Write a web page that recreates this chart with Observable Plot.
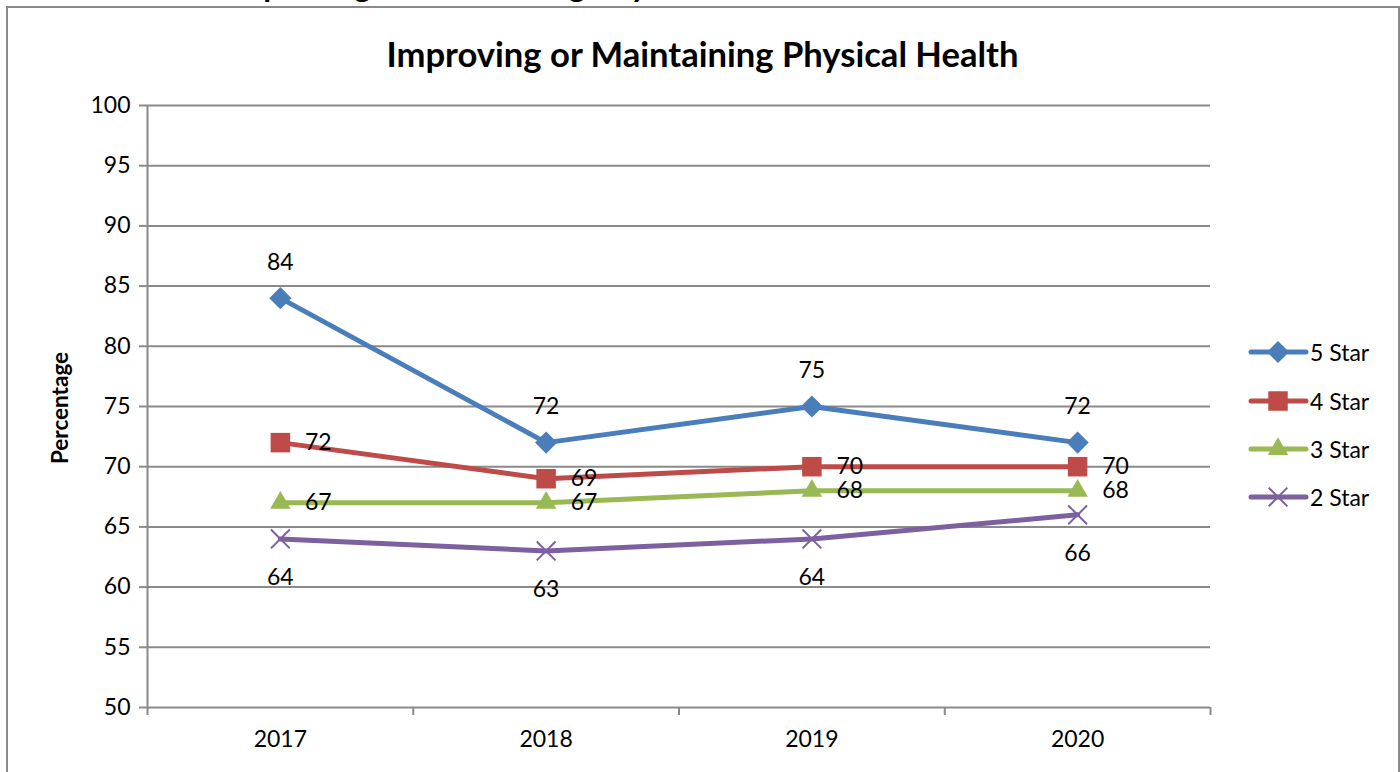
<!DOCTYPE html>
<html>
<head>
<meta charset="utf-8">
<script src="https://cdn.jsdelivr.net/npm/d3@7"></script>
<script src="https://cdn.jsdelivr.net/npm/@observablehq/plot@0.6"></script>
<style>
  html, body { margin: 0; padding: 0; background: #fff; overflow: hidden; }
  #wrap { position: relative; width: 1400px; height: 772px; font-family: Lato, "Open Sans", sans-serif; }
  #border { position: absolute; left: 6px; top: 6px; width: 1390px; height: 820px; border: 2px solid #8a8a8a; pointer-events: none; }
  #cut { position: absolute; left: 40px; top: -30px; font-size: 32px; line-height: 30px; font-weight: bold; white-space: nowrap; color: #000; }
  #title { position: absolute; left: 0; width: 1405px; top: 35px; text-align: center; font-size: 34.6px; line-height: 38px; font-weight: bold; color: #000; }
  #ylab { position: absolute; left: 59px; top: 408px; transform: translate(-50%, -50%) rotate(-90deg); font-size: 22.5px; font-weight: bold; white-space: nowrap; }
  #legend { position: absolute; left: 1248px; top: 0; }
  .li { position: absolute; left: 0; height: 30px; width: 150px; }
  .li svg { position: absolute; left: 0; top: 0; }
  .li span { position: absolute; left: 62px; top: 0; line-height: 30px; font-size: 23px; white-space: nowrap; }
  #chart { position: absolute; left: 0; top: 0; }
</style>
</head>
<body>
<div id="wrap">
  <div id="chart"></div>
  <div id="cut">Measure 5C: Improving or Maintaining Physical Health</div>
  <div id="title">Improving or Maintaining Physical Health</div>
  <div id="ylab">Percentage</div>
  <div id="legend"></div>
  <div id="border"></div>
</div>
<script>
const years = [2017, 2018, 2019, 2020];
const seriesNames = ["5 Star", "4 Star", "3 Star", "2 Star"];
const star5 = [84, 72, 75, 72];
const star4 = [72, 69, 70, 70];
const star3 = [67, 67, 68, 68];
const star2 = [64, 63, 64, 66];
const colors = ["#4A7EBB", "#BE4B48", "#98B954", "#7D60A0"];
const yTicks = [50, 55, 60, 65, 70, 75, 80, 85, 90, 95, 100];

const values = [star5, star4, star3, star2];
const data = [];
seriesNames.forEach((s, i) => years.forEach((y, j) => data.push({series: s, year: y, value: values[i][j]})));
const bySeries = s => data.filter(d => d.series === s);
const boundaries = [...years.map(y => y - 0.5), years[years.length - 1] + 0.5];

const symbols = {"5 Star": "diamond2", "4 Star": "square", "3 Star": "triangle", "2 Star": "times"};
const radius = {"5 Star": 10, "4 Star": 11, "3 Star": 7.6, "2 Star": 8.6};

const marks = [
  Plot.ruleY(yTicks.slice(1), {stroke: "#8a8a8a", strokeWidth: 2}),
  Plot.axisY({ticks: yTicks, tickSize: 8, tickPadding: 9, fontSize: 23, stroke: "#8a8a8a", strokeWidth: 2, color: "#000", label: null}),
  Plot.axisX({ticks: boundaries, tickSize: 8, tickFormat: () => "", stroke: "#8a8a8a", strokeWidth: 2, label: null}),
  Plot.axisX({ticks: years, tickSize: 0, tickPadding: 23, tickFormat: d => String(d), fontSize: 23, color: "#000", label: null}),
  Plot.ruleY([50], {stroke: "#8a8a8a", strokeWidth: 2}),
  Plot.ruleX([boundaries[0]], {y1: 50, y2: 100, stroke: "#8a8a8a", strokeWidth: 2}),
  Plot.line(data, {x: "year", y: "value", z: "series", stroke: "series", strokeWidth: 5})
];
seriesNames.forEach(s => {
  const isStroke = s === "2 Star";
  marks.push(Plot.dot(bySeries(s), {
    x: "year", y: "value", symbol: () => symbols[s], r: radius[s],
    fill: isStroke ? "none" : "series", stroke: isStroke ? "series" : "none", strokeWidth: isStroke ? 2 : 0
  }));
});
const labelPos = {"5 Star": {dx: 0, dy: -36}, "4 Star": {dx: 38, dy: 0}, "3 Star": {dx: 38, dy: 0}, "2 Star": {dx: 0, dy: 39}};
seriesNames.forEach(s => {
  marks.push(Plot.text(bySeries(s), {x: "year", y: "value", text: d => String(d.value), dx: labelPos[s].dx, dy: labelPos[s].dy, fontSize: 23, fill: "#000"}));
});

const chart = Plot.plot({
  width: 1400, height: 772,
  marginLeft: 147, marginRight: 190, marginTop: 105, marginBottom: 65,
  style: {background: "transparent", fontFamily: "Lato, 'Open Sans', sans-serif"},
  x: {domain: [boundaries[0], boundaries[boundaries.length - 1]], axis: null},
  y: {domain: [50, 100], axis: null},
  color: {domain: seriesNames, range: colors},
  symbol: {type: "identity"},
  marks
});
document.getElementById("chart").appendChild(chart);

// Legend
const legend = document.getElementById("legend");
const legendY = [352, 401, 449, 497];
seriesNames.forEach((s, i) => {
  const item = document.createElement("div");
  item.className = "li";
  item.style.top = (legendY[i] - 15) + "px";
  const svg = d3.create("svg").attr("width", 62).attr("height", 30);
  svg.append("line").attr("x1", 3).attr("x2", 58).attr("y1", 15).attr("y2", 15)
    .attr("stroke", colors[i]).attr("stroke-width", 5).attr("stroke-linecap", "round");
  const symMap = {"5 Star": d3.symbolDiamond2, "4 Star": d3.symbolSquare, "3 Star": d3.symbolTriangle, "2 Star": d3.symbolTimes};
  const size = Math.PI * radius[s] * radius[s];
  const p = svg.append("path").attr("d", d3.symbol(symMap[s], size)()).attr("transform", "translate(30,15)");
  if (s === "2 Star") p.attr("fill", "none").attr("stroke", colors[i]).attr("stroke-width", 2);
  else p.attr("fill", colors[i]);
  item.appendChild(svg.node());
  const sp = document.createElement("span");
  sp.textContent = s;
  item.appendChild(sp);
  legend.appendChild(item);
});
</script>
</body>
</html>
